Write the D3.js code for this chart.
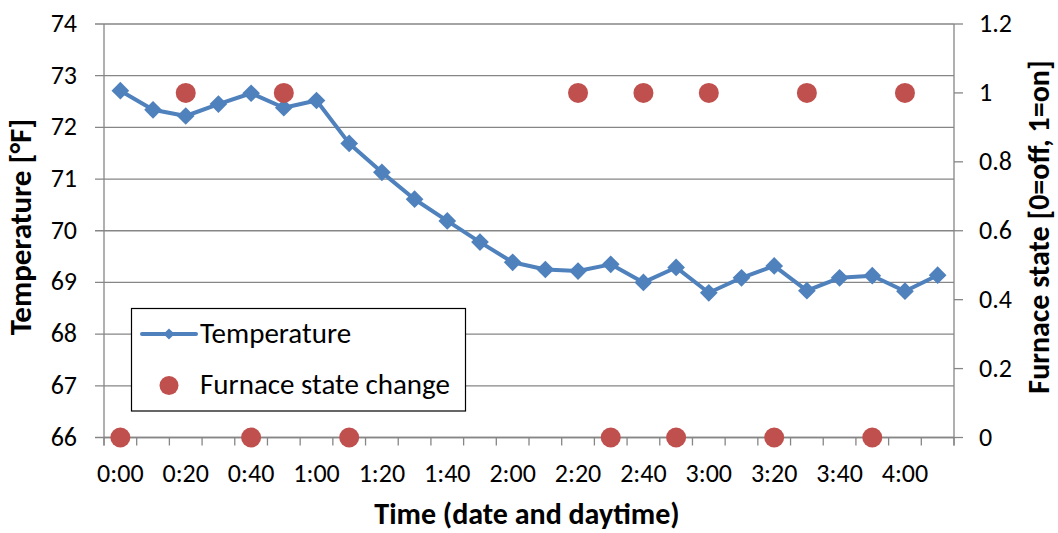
<!DOCTYPE html>
<html>
<head>
<meta charset="utf-8">
<script src="https://cdn.jsdelivr.net/npm/d3@7"></script>
<style>
  body { margin: 0; background: #fff; }
  text { font-family: Calibri, Carlito, "Open Sans", sans-serif; fill: #000; }
</style>
</head>
<body>
<svg id="chart"></svg>
<script>
let w = 1058;
let h = 533;

// time of day, one reading every 10 minutes
const times = ['0:00','0:10','0:20','0:30','0:40','0:50','1:00','1:10','1:20','1:30','1:40','1:50',
  '2:00','2:10','2:20','2:30','2:40','2:50','3:00','3:10','3:20','3:30','3:40','3:50','4:00','4:10'];
// temperature in °F
const temperature = [72.71, 72.34, 72.22, 72.45, 72.66, 72.38, 72.52, 71.69, 71.13, 70.61, 70.19, 69.78,
  69.39, 69.25, 69.22, 69.35, 69.00, 69.29, 68.80, 69.09, 69.32, 68.84, 69.09, 69.13, 68.83, 69.14];
// furnace state change (0=off, 1=on), null where nothing changed
const furnace = [0, null, 1, null, 0, 1, null, 0, null, null, null, null,
  null, null, 1, 0, 1, 0, 1, null, 0, 1, null, 0, 1, null];
const tempTicks = [66, 67, 68, 69, 70, 71, 72, 73, 74];
const stateTicks = [0, 0.2, 0.4, 0.6, 0.8, 1, 1.2];
const labelTimes = times.filter((d, i) => i % 2 === 0);

const plot = {left: 104, right: 954, top: 24, bottom: 437.5};
const gridColor = '#868686';
const blue = '#4f81bd';
const red = '#c0504d';

//scales
let x = d3.scaleBand().domain(times).range([plot.left, plot.right]).padding(0);
let yLeft = d3.scaleLinear().domain([66, 74]).range([plot.bottom, plot.top]);
let yRight = d3.scaleLinear().domain([0, 1.2]).range([plot.bottom, plot.top]);

let svg = d3.select('#chart')
    .attr('width', w)
    .attr('height', h);

svg.append('rect').attr('width', w).attr('height', h).attr('fill', '#fff');

//horizontal gridlines from left axis
svg.append('g')
    .selectAll('line')
    .data(tempTicks)
    .enter()
    .append('line')
        .attr('x1', plot.left - 9)
        .attr('x2', plot.right)
        .attr('y1', d => yLeft(d))
        .attr('y2', d => yLeft(d))
        .attr('stroke', gridColor)
        .attr('stroke-width', 1.3);

//left axis line and labels
svg.append('line')
    .attr('x1', plot.left).attr('x2', plot.left)
    .attr('y1', plot.top).attr('y2', plot.bottom + 8)
    .attr('stroke', gridColor).attr('stroke-width', 1.3);

svg.append('g')
    .selectAll('text')
    .data(tempTicks)
    .enter()
    .append('text')
        .attr('x', 77)
        .attr('y', d => yLeft(d) + 8)
        .attr('text-anchor', 'end')
        .style('font-size', '26px')
        .text(d => d);

//bottom axis: ticks at category edges
let edges = times.map(d => x(d)).concat([plot.right]);
svg.append('line')
    .attr('x1', plot.left).attr('x2', plot.right)
    .attr('y1', plot.bottom).attr('y2', plot.bottom)
    .attr('stroke', gridColor).attr('stroke-width', 1.3);
svg.append('g')
    .selectAll('line')
    .data(edges)
    .enter()
    .append('line')
        .attr('x1', d => d).attr('x2', d => d)
        .attr('y1', plot.bottom).attr('y2', plot.bottom + 8)
        .attr('stroke', gridColor).attr('stroke-width', 1.3);

svg.append('g')
    .selectAll('text')
    .data(labelTimes)
    .enter()
    .append('text')
        .attr('x', d => x(d) + x.bandwidth() / 2)
        .attr('y', 482)
        .attr('text-anchor', 'middle')
        .style('font-size', '26px')
        .text(d => d);

//right axis
svg.append('line')
    .attr('x1', plot.right).attr('x2', plot.right)
    .attr('y1', plot.top).attr('y2', plot.bottom + 8)
    .attr('stroke', gridColor).attr('stroke-width', 1.3);
svg.append('g')
    .selectAll('line')
    .data(stateTicks)
    .enter()
    .append('line')
        .attr('x1', plot.right).attr('x2', plot.right + 9)
        .attr('y1', d => yRight(d)).attr('y2', d => yRight(d))
        .attr('stroke', gridColor).attr('stroke-width', 1.3);
svg.append('g')
    .selectAll('text')
    .data(stateTicks)
    .enter()
    .append('text')
        .attr('x', 979)
        .attr('y', d => yRight(d) + 8)
        .style('font-size', '26px')
        .text(d => d);

//axis titles
svg.append('text')
    .attr('transform', `translate(31, 227) rotate(-90)`)
    .attr('text-anchor', 'middle')
    .style('font-size', '31px')
    .style('font-weight', 'bold')
    .text('Temperature [°F]');

svg.append('text')
    .attr('transform', `translate(1049, 227) rotate(-90)`)
    .attr('text-anchor', 'middle')
    .style('font-size', '30px')
    .style('font-weight', 'bold')
    .text('Furnace state [0=off, 1=on]');

svg.append('text')
    .attr('x', 527)
    .attr('y', 524)
    .attr('text-anchor', 'middle')
    .style('font-size', '30px')
    .style('font-weight', 'bold')
    .text('Time (date and daytime)');

//temperature line
let cx = d => x(d) + x.bandwidth() / 2;
let line = d3.line()
    .x((d, i) => cx(times[i]))
    .y(d => yLeft(d));

svg.append('path')
    .datum(temperature)
    .attr('d', line)
    .attr('fill', 'none')
    .attr('stroke', blue)
    .attr('stroke-width', 4)
    .attr('stroke-linejoin', 'round');

let diamond = d3.symbol().type(d3.symbolDiamond2).size(200);
svg.append('g')
    .selectAll('path')
    .data(temperature)
    .enter()
    .append('path')
        .attr('d', diamond)
        .attr('transform', (d, i) => `translate(${cx(times[i])},${yLeft(d)})`)
        .attr('fill', blue);

//furnace state change dots
let states = furnace.map((v, i) => ({time: times[i], value: v})).filter(d => d.value !== null);
svg.append('g')
    .selectAll('circle')
    .data(states)
    .enter()
    .append('circle')
        .attr('cx', d => cx(d.time))
        .attr('cy', d => yRight(d.value))
        .attr('r', 10)
        .attr('fill', red);

//legend
let legend = svg.append('g');
legend.append('rect')
    .attr('x', 131.5).attr('y', 308.5)
    .attr('width', 334).attr('height', 102.5)
    .attr('fill', '#fff')
    .attr('stroke', '#000')
    .attr('stroke-width', 1.2);
legend.append('line')
    .attr('x1', 142).attr('x2', 196)
    .attr('y1', 334).attr('y2', 334)
    .attr('stroke', blue).attr('stroke-width', 4).attr('stroke-linecap', 'round');
legend.append('path')
    .attr('d', d3.symbol().type(d3.symbolDiamond2).size(80))
    .attr('transform', 'translate(169,334)')
    .attr('fill', blue);
legend.append('circle')
    .attr('cx', 169).attr('cy', 385.5).attr('r', 9.5)
    .attr('fill', red);
legend.append('text')
    .attr('x', 200).attr('y', 343)
    .style('font-size', '29px')
    .text('Temperature');
legend.append('text')
    .attr('x', 200).attr('y', 394)
    .style('font-size', '29px')
    .text('Furnace state change');
</script>
</body>
</html>
